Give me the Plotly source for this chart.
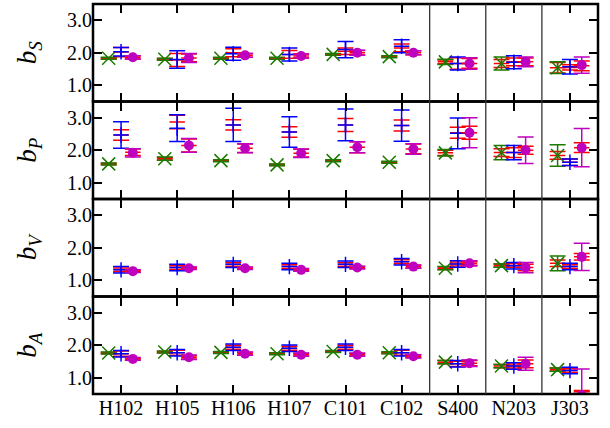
import plotly.graph_objects as go
from plotly.subplots import make_subplots

# ensembles along the x axis
ensembles = ["H102", "H105", "H106", "H107", "C101", "C102", "S400", "N203", "J303"]
N = None

# ---- b_S ----
bS_green = [1.83, 1.80, 1.83, 1.83, 1.95, 1.88, 1.72, 1.67, 1.54]
bS_green_err = [0.03, 0.03, 0.03, 0.03, 0.03, 0.03, 0.08, 0.20, 0.18]
bS_red_l = [1.83, 1.80, 1.83, 1.83, 1.95, 1.88, 1.72, 1.67, 1.54]
bS_red_l_err = [0.02, 0.02, 0.02, 0.02, 0.02, 0.02, 0.06, 0.12, 0.16]
bS_blue = [2.03, 1.79, 1.97, 1.95, 2.10, 2.20, 1.67, 1.71, 1.57]
bS_blue_err = [0.13, 0.27, 0.20, 0.20, 0.25, 0.20, 0.20, 0.20, 0.22]
bS_red_c = [2.02, 1.78, 2.00, 1.95, 2.05, 2.15, 1.67, 1.72, 1.55]
bS_red_c_err = [0.14, 0.20, 0.12, 0.12, 0.10, 0.12, 0.18, 0.12, 0.08]
bS_mag = [1.86, 1.84, 1.92, 1.90, 2.00, 2.00, 1.67, 1.72, 1.62]
bS_mag_err = [0.05, 0.14, 0.06, 0.06, 0.08, 0.06, 0.18, 0.15, 0.25]
bS_red_r = [1.86, 1.84, 1.92, 1.90, 2.00, 2.00, 1.67, 1.72, 1.60]
bS_red_r_err = [0.05, 0.12, 0.06, 0.06, 0.07, 0.06, 0.15, 0.12, 0.15]

# ---- b_P ----
bP_green = [1.58, 1.74, 1.68, 1.55, 1.68, 1.63, 1.92, 1.93, 1.84]
bP_green_err = [0.03, 0.05, 0.03, 0.03, 0.03, 0.03, 0.10, 0.22, 0.33]
bP_red_l = [1.58, 1.74, 1.68, 1.55, 1.68, 1.63, 1.92, 1.93, 1.84]
bP_red_l_err = [0.02, 0.04, 0.02, 0.02, 0.02, 0.02, 0.08, 0.12, 0.12]
bP_blue = [2.47, 2.68, 2.78, 2.56, 2.78, 2.76, 2.52, 1.93, 1.63]
bP_blue_err = [0.41, 0.41, 0.51, 0.47, 0.49, 0.48, 0.47, 0.22, 0.10]
bP_red_c = [2.47, 2.87, 2.78, 2.56, 2.78, 2.76, 2.54, 1.93, 1.63]
bP_red_c_err = [0.16, 0.21, 0.16, 0.16, 0.20, 0.17, 0.17, 0.15, 0.10]
bP_mag = [1.92, 2.15, 2.06, 1.91, 2.09, 2.04, 2.54, 2.00, 2.08]
bP_mag_err = [0.13, 0.21, 0.14, 0.13, 0.17, 0.16, 0.46, 0.41, 0.59]
bP_red_r = [1.94, 2.15, 2.06, 1.91, 2.09, 2.04, 2.54, 2.00, 2.08]
bP_red_r_err = [0.10, 0.20, 0.13, 0.12, 0.17, 0.15, 0.20, 0.12, 0.15]

# ---- b_V ----
bV_green = [N, N, N, N, N, N, 1.37, 1.45, 1.52]
bV_green_err = [0, 0, 0, 0, 0, 0, 0.05, 0.05, 0.23]
bV_red_l = [N, N, N, N, N, N, 1.37, 1.45, 1.52]
bV_red_l_err = [0, 0, 0, 0, 0, 0, 0.04, 0.05, 0.10]
bV_blue = [1.32, 1.39, 1.49, 1.42, 1.49, 1.57, 1.50, 1.45, 1.42]
bV_blue_err = [0.10, 0.10, 0.10, 0.10, 0.10, 0.10, 0.10, 0.10, 0.10]
bV_red_c = [1.32, 1.39, 1.49, 1.42, 1.49, 1.57, 1.50, 1.45, 1.42]
bV_red_c_err = [0.06, 0.06, 0.06, 0.06, 0.06, 0.06, 0.06, 0.06, 0.06]
bV_mag = [1.28, 1.37, 1.37, 1.32, 1.39, 1.42, 1.52, 1.39, 1.72]
bV_mag_err = [0.04, 0.04, 0.04, 0.04, 0.04, 0.05, 0.08, 0.16, 0.42]
bV_red_r = [1.28, 1.37, 1.37, 1.32, 1.39, 1.42, 1.52, 1.39, 1.72]
bV_red_r_err = [0.03, 0.03, 0.03, 0.03, 0.03, 0.04, 0.06, 0.10, 0.10]

# ---- b_A ----
bA_green = [1.76, 1.79, 1.78, 1.74, 1.81, 1.77, 1.48, 1.36, 1.25]
bA_green_err = [0.03, 0.03, 0.03, 0.03, 0.03, 0.03, 0.05, 0.05, 0.05]
bA_red_l = [1.76, 1.79, 1.78, 1.74, 1.81, 1.77, 1.48, 1.36, 1.25]
bA_red_l_err = [0.02, 0.02, 0.02, 0.02, 0.02, 0.02, 0.05, 0.05, 0.05]
bA_blue = [1.74, 1.77, 1.94, 1.91, 1.94, 1.77, 1.43, 1.36, 1.22]
bA_blue_err = [0.10, 0.10, 0.10, 0.10, 0.10, 0.10, 0.10, 0.10, 0.10]
bA_red_c = [1.74, 1.77, 1.94, 1.91, 1.94, 1.77, 1.43, 1.36, 1.22]
bA_red_c_err = [0.08, 0.08, 0.06, 0.06, 0.06, 0.08, 0.08, 0.06, 0.06]
bA_mag = [1.58, 1.63, 1.74, 1.71, 1.71, 1.66, 1.45, 1.43, 0.47]
bA_mag_err = [0.04, 0.07, 0.05, 0.05, 0.05, 0.05, 0.10, 0.20, 0.80]
bA_red_r = [1.58, 1.63, 1.74, 1.71, 1.71, 1.66, 1.45, 1.43, 0.59]
bA_red_r_err = [0.03, 0.05, 0.04, 0.04, 0.04, 0.04, 0.08, 0.12, 0.02]

panels = [
    ("S", bS_red_l, bS_red_l_err, bS_green, bS_green_err, bS_red_c, bS_red_c_err,
     bS_blue, bS_blue_err, bS_red_r, bS_red_r_err, bS_mag, bS_mag_err),
    ("P", bP_red_l, bP_red_l_err, bP_green, bP_green_err, bP_red_c, bP_red_c_err,
     bP_blue, bP_blue_err, bP_red_r, bP_red_r_err, bP_mag, bP_mag_err),
    ("V", bV_red_l, bV_red_l_err, bV_green, bV_green_err, bV_red_c, bV_red_c_err,
     bV_blue, bV_blue_err, bV_red_r, bV_red_r_err, bV_mag, bV_mag_err),
    ("A", bA_red_l, bA_red_l_err, bA_green, bA_green_err, bA_red_c, bA_red_c_err,
     bA_blue, bA_blue_err, bA_red_r, bA_red_r_err, bA_mag, bA_mag_err),
]

GREEN = "#1c7a00"
BLUE = "#0000ff"
RED = "#ff0000"
MAG = "#bf00bf"
OFF_L, OFF_C, OFF_R = -0.22, 0.0, 0.21
FONT = "Liberation Serif"

fig = make_subplots(rows=4, cols=1, shared_xaxes=True, vertical_spacing=0)


def add(row, vals, errs, off, color, symbol, size, lw=1.5):
    xs = [i + off for i in range(len(ensembles))]
    fig.add_trace(
        go.Scatter(
            x=xs, y=vals, mode="markers",
            marker=dict(symbol=symbol, size=size, color=color,
                        line=dict(color=color, width=lw)),
            error_y=dict(type="data", array=errs, visible=True, color=color,
                         thickness=1.5, width=8),
            showlegend=False, cliponaxis=True,
        ),
        row=row, col=1,
    )


for r, p in enumerate(panels, start=1):
    (_, rl, rle, g, ge, rc, rce, b, be, rr, rre, m, me) = p
    add(r, rl, rle, OFF_L, RED, "line-ew", 11)
    add(r, g, ge, OFF_L, GREEN, "x-thin", 13)
    add(r, rc, rce, OFF_C, RED, "line-ew", 11)
    add(r, b, be, OFF_C, BLUE, "cross-thin", 11)
    add(r, rr, rre, OFF_R, RED, "line-ew", 11)
    add(r, m, me, OFF_R, MAG, "circle", 10, lw=0)

axis_common = dict(
    showline=False,
    ticks="inside", ticklen=9, tickwidth=1.5, tickcolor="black",
    showgrid=False, zeroline=False,
    tickfont=dict(family=FONT, size=20, color="black"),
)

for r, p in enumerate(panels, start=1):
    fig.update_xaxes(range=[-0.5, 8.5], tickvals=list(range(len(ensembles))),
                     ticktext=ensembles, mirror="ticks", row=r, col=1, **axis_common)
    fig.update_yaxes(range=[0.5, 3.5], tickvals=[1, 2, 3],
                     ticktext=["1.0", "2.0", "3.0"], mirror="ticks", row=r, col=1,
                     title=dict(text="<i>b</i><sub><i>%s</i></sub>" % p[0],
                                font=dict(family=FONT, size=27, color="black"),
                                standoff=22),
                     **axis_common)
    # panel frame
    suffix = "" if r == 1 else str(r)
    fig.add_shape(type="rect", xref="x%s domain" % suffix, yref="y%s domain" % suffix,
                  x0=0, x1=1, y0=0, y1=1, line=dict(color="black", width=2.5),
                  layer="above")

# separators between ensemble groups
for xv in [5.5, 6.5, 7.5]:
    fig.add_shape(type="line", xref="x", yref="paper", x0=xv, x1=xv, y0=0, y1=1,
                  line=dict(color="#333333", width=1.3))

fig.update_layout(
    width=610, height=428,
    margin=dict(l=93, r=12, t=4, b=34),
    paper_bgcolor="white", plot_bgcolor="white",
    font=dict(family=FONT, color="black"),
)

fig.write_html("out.html")
